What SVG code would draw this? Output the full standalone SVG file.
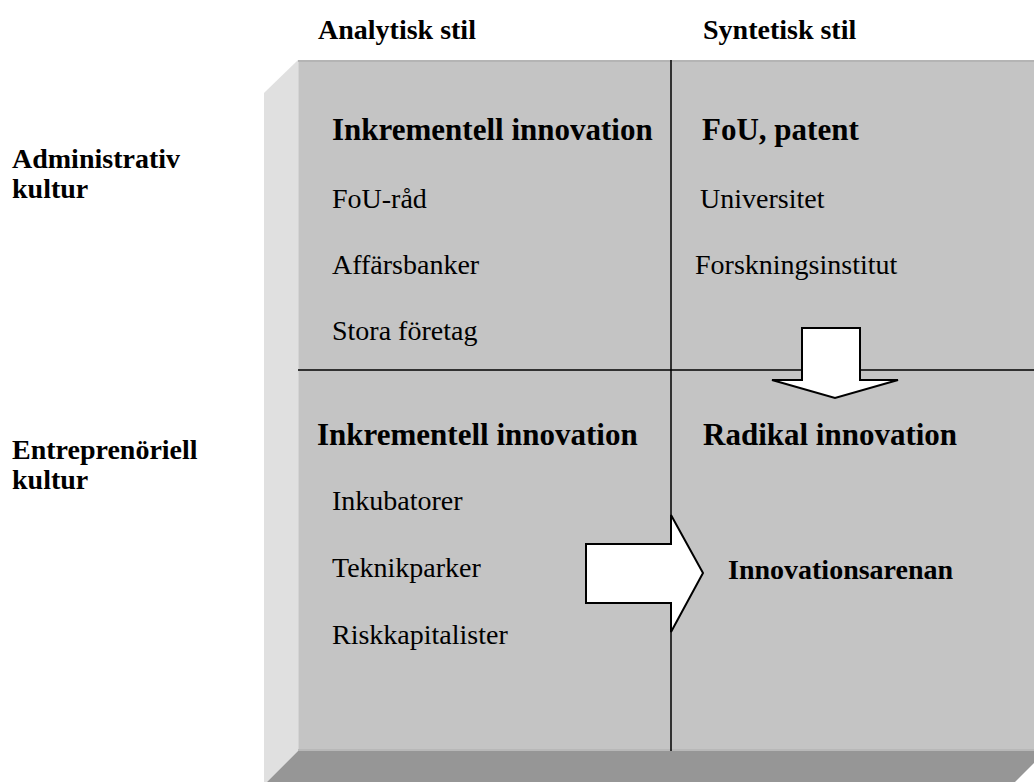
<svg xmlns="http://www.w3.org/2000/svg" width="1034" height="782" viewBox="0 0 1034 782">
  <style>
    .hdr { font-family: "Liberation Serif", "Times New Roman", serif; font-weight: bold; font-size: 28px; fill: #000; }
    .ttl { font-family: "Liberation Serif", "Times New Roman", serif; font-weight: bold; font-size: 31px; fill: #000; }
    .itm { font-family: "Liberation Serif", "Times New Roman", serif; font-size: 28px; fill: #000; }
    .div { stroke: #000; stroke-width: 1.5; fill: none; }
    .arrow { fill: #fff; stroke: #000; stroke-width: 2; stroke-linejoin: miter; }
  </style>
  <rect width="1034" height="782" fill="#fff"/>

  <!-- bevelled panel -->
  <g id="panel">
    <polygon points="264,93 298,60 298,751 264,785" fill="#e0e0e0"/>
    <polygon points="298,751 1046,751 1015,782 267,782" fill="#969696"/>
    <rect x="298" y="60" width="736" height="691" fill="#c4c4c4"/>
    <rect x="298" y="60" width="736" height="2" fill="#b4b4b4"/>
    <rect x="298" y="749" width="736" height="2" fill="#b8b8b8"/>
    <rect x="298" y="62" width="1" height="687" fill="#d4d4d4"/>
  </g>

  <!-- quadrant dividers -->
  <g id="connectors">
    <line class="div" x1="671" y1="60" x2="671" y2="751"/>
    <line class="div" x1="298" y1="370" x2="1034" y2="370"/>
  </g>

  <!-- column and row headings -->
  <g id="col-analytisk"><text class="hdr" x="318" y="39">Analytisk stil</text></g>
  <g id="col-syntetisk"><text class="hdr" x="703" y="39">Syntetisk stil</text></g>
  <g id="row-administrativ">
    <text class="hdr" x="12" y="168">Administrativ</text>
    <text class="hdr" x="12" y="198">kultur</text>
  </g>
  <g id="row-entreprenoriell">
    <text class="hdr" x="12" y="459">Entreprenöriell</text>
    <text class="hdr" x="12" y="489">kultur</text>
  </g>

  <!-- top-left quadrant -->
  <g id="q-admin-analytisk">
    <text class="ttl" x="332" y="140">Inkrementell innovation</text>
    <text class="itm" x="332" y="208">FoU-råd</text>
    <text class="itm" x="332" y="274">Affärsbanker</text>
    <text class="itm" x="332" y="340">Stora företag</text>
  </g>

  <!-- top-right quadrant -->
  <g id="q-admin-syntetisk">
    <text class="ttl" x="702" y="140">FoU, patent</text>
    <text class="itm" x="700" y="208">Universitet</text>
    <text class="itm" x="695" y="274">Forskningsinstitut</text>
  </g>

  <!-- bottom-left quadrant -->
  <g id="q-entre-analytisk">
    <text class="ttl" x="317" y="445">Inkrementell innovation</text>
    <text class="itm" x="332" y="510">Inkubatorer</text>
    <text class="itm" x="332" y="577">Teknikparker</text>
    <text class="itm" x="332" y="644">Riskkapitalister</text>
  </g>

  <!-- bottom-right quadrant -->
  <g id="q-entre-syntetisk">
    <text class="ttl" x="703" y="445">Radikal innovation</text>
    <text class="hdr" x="728" y="579">Innovationsarenan</text>
  </g>

  <!-- block arrows -->
  <g id="arrow-down">
    <polygon class="arrow" points="802,328 860,328 860,380 898,380 835,398 772,380 802,380"/>
  </g>
  <g id="arrow-right">
    <polygon class="arrow" points="586,544 671,544 671,515 703,573 671,632 671,603 586,603"/>
  </g>
</svg>
